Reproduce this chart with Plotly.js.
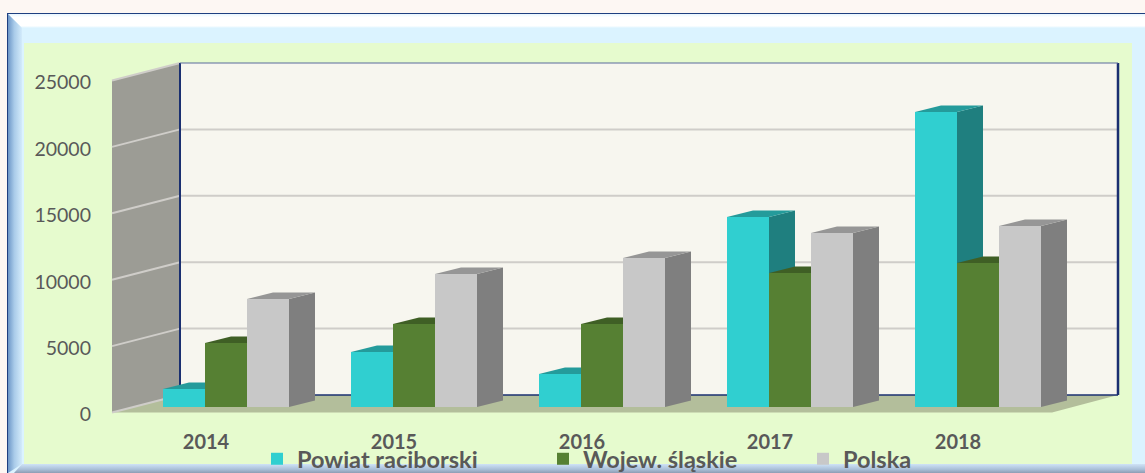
<!DOCTYPE html>
<html><head><meta charset="utf-8">
<script src="https://cdn.plot.ly/plotly-3.0.1.min.js"></script>
<style>
html,body{margin:0;padding:0;background:#fdf7f3;overflow:hidden;width:1145px;height:473px}
.l{position:absolute}
#chart{position:absolute;left:0;top:0;width:1145px;height:473px}
</style></head><body>
<div class="l" style="left:7px;top:13px;width:1138px;height:460px;background:#1f3f80"></div>
<div class="l" style="left:8px;top:14px;width:1137px;height:459px;background:#dbf3ff"></div>
<div class="l" style="left:8px;top:14px;width:1137px;height:14px;background:linear-gradient(#e8f6ff 0,#fff 25%,#fff 85%,#dbf3ff 100%);clip-path:polygon(0 0,100% 0,100% 100%,14px 100%)"></div>
<div class="l" style="left:8px;top:14px;width:14px;height:459px;background:linear-gradient(to right,#6d97c8,#a9cbe9 45%,#d3ebfb);clip-path:polygon(0 0,100% 14px,100% calc(100% - 9px),0 100%)"></div>
<div class="l" style="left:14px;top:464px;width:1131px;height:9px;background:linear-gradient(#cfe3f6,#a9bfd8 60%,#8d9db3);clip-path:polygon(8px 0,100% 0,100% 100%,0 100%)"></div>
<div class="l" style="left:24px;top:43px;width:1108px;height:421px;background:#e6fbce"></div>
<div id="chart"></div>
<script>
var categories = ['2014','2015','2016','2017','2018'];
var powiat = [1355,4140,2485,14310,22210];
var slaskie = [4820,6250,6250,10090,10840];
var polska = [8130,10015,11220,13100,13630];
var yTicks = [0,5000,10000,15000,20000,25000];
var names = ['Powiat raciborski','Wojew. śląskie','Polska'];

var W=1145,H=473,L=110,R=1120,T=60,B=414;
var perCat=188, zeroX=206, zeroY=412.5, k=332/25000;
function X(px){return (px-zeroX)/perCat;}
function Y(py){return (zeroY-py)/k;}
var barW=42/perCat, base=5.5/k, dx=26/perCat, dy=6.5/k;
var offsets=[(163-zeroX)/perCat,(205-zeroX)/perCat,(247-zeroX)/perCat];
var fronts=['#30cfd0','#568033','#c8c8c8'];
var sides=['#1f7f7f','#3f6026','#7f7f7f'];
var tops=['#249b9b','#3f5f25','#969696'];
var series=[powiat,slaskie,polska];

function poly(pts,fill,layer){
  return {type:'path',xref:'x',yref:'y',layer:layer||'below',fillcolor:fill,line:{width:0},
    path:'M'+pts.map(function(p){return p[0]+','+p[1];}).join('L')+'Z'};
}
function seg(x0,y0,x1,y1,color,w,layer){
  return {type:'line',xref:'x',yref:'y',layer:layer||'below',x0:x0,y0:y0,x1:x1,y1:y1,line:{color:color,width:w}};
}
var shapes=[];
var wx0=X(112),wx1=X(180),wx2=X(1118),fx=X(1052),rearY=Y(395),topRear=rearY+25000;
shapes.push(poly([[wx1,rearY],[wx2,rearY],[wx2,topRear],[wx1,topRear]],'#f7f6ef'));
shapes.push(poly([[wx0,0],[wx1,rearY],[wx1,topRear],[wx0,25000]],'#9c9c95'));
shapes.push(poly([[wx0,0],[wx1,rearY],[wx2,rearY],[fx,0]],'#b3be9b'));
yTicks.forEach(function(v){
  shapes.push(seg(wx0,v,wx1,v+rearY,'#cfcdc9',2));
  if(v>0 && v<25000) shapes.push(seg(wx1,v+rearY,wx2,v+rearY,'#cfcdc9',2));
});
shapes.push(seg(wx1,rearY,wx1,topRear,'#1a2f70',2));
shapes.push(seg(wx1,rearY,wx2,rearY,'#1a2f70',1.5));
shapes.push(seg(wx2,rearY,wx2,topRear,'#1a2f70',2.5));
shapes.push(seg(wx1,topRear,wx2,topRear,'#5a6a9c',1));
series.forEach(function(vals,s){
  vals.forEach(function(v,c){
    var x0=c+offsets[s],x1=x0+barW,t=v+base;
    shapes.push(poly([[x1,base],[x1+dx,base+dy],[x1+dx,t+dy],[x1,t]],sides[s]));
    shapes.push(poly([[x0,t],[x0+dx,t+dy],[x1+dx,t+dy],[x1,t]],tops[s]));
  });
});

var idx=categories.map(function(c,i){return i;});
var legendKeys=['legend','legend2','legend3'];
var legendX=[257,543,803];
var traces=series.map(function(vals,s){
  return {type:'bar',x:idx,y:vals,base:base,name:names[s],width:barW,offset:offsets[s],
    marker:{color:fronts[s],line:{width:0}},legend:legendKeys[s],hoverinfo:'skip'};
});
var layout={
  width:W,height:H,showlegend:true,barmode:'overlay',
  paper_bgcolor:'rgba(0,0,0,0)',plot_bgcolor:'rgba(0,0,0,0)',
  margin:{l:L,r:W-R,t:T,b:H-B,pad:0,autoexpand:false},
  font:{family:'Lato, sans-serif',color:'#595959'},
  xaxis:{type:'linear',range:[X(L),X(R)],tickmode:'array',tickvals:idx,ticktext:categories,
    showgrid:false,zeroline:false,showline:false,ticks:'',ticklabelstandoff:14,
    tickfont:{family:'Lato, sans-serif',size:20,color:'#595959',weight:700}},
  yaxis:{range:[Y(B),Y(T)],tickmode:'array',tickvals:yTicks,ticktext:yTicks.map(String),
    showgrid:false,zeroline:false,showline:false,ticks:'',ticklabelstandoff:18,ticklabelshift:2,
    tickfont:{family:'Lato, sans-serif',size:19.5,color:'#595959'}},
  shapes:shapes
};
legendKeys.forEach(function(key,s){
  layout[key]={xref:'container',yref:'container',x:legendX[s]/W,y:1-437/H,xanchor:'left',yanchor:'top',
    bgcolor:'rgba(0,0,0,0)',borderwidth:0,itemclick:false,itemdoubleclick:false,
    font:{family:'Lato, sans-serif',size:23.5,color:'#595959',weight:700}};
});
Plotly.newPlot('chart',traces,layout,{displayModeBar:false,staticPlot:true});
</script>
</body></html>
